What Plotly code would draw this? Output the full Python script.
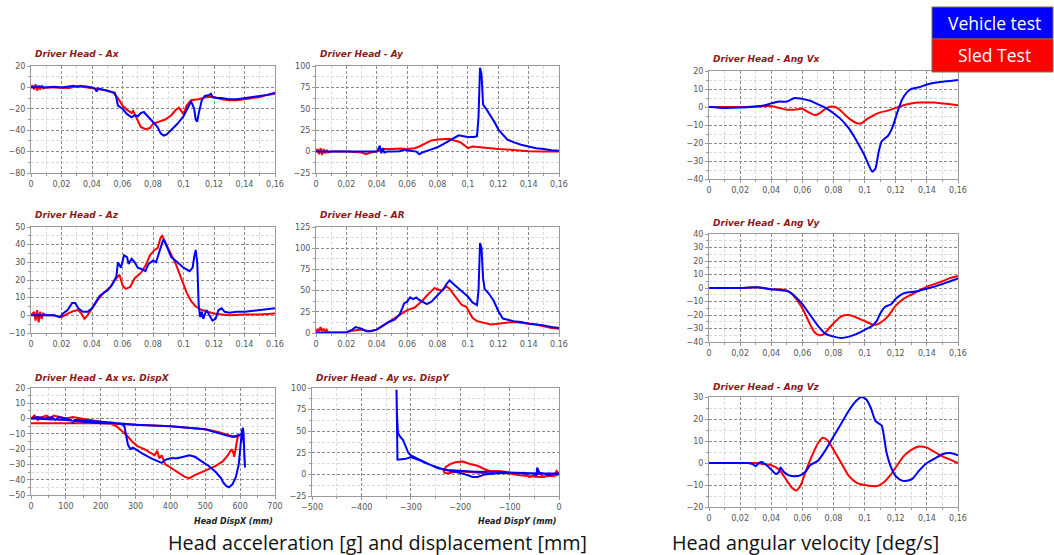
import plotly.graph_objects as go

W, H = 1054, 555

# ---------------- data (time in s) ----------------
ax_vehicle = [(0,0),(0.005,0.5),(0.01,0),(0.015,0.5),(0.02,0),(0.025,1),(0.028,1.5),(0.03,0.5),(0.035,1),(0.04,0),(0.042,-1),(0.043,-4),(0.044,-1),(0.047,-2),(0.05,-3),(0.053,-4),(0.055,-5),(0.056,-10),(0.057,-17),(0.06,-20),(0.063,-25),(0.066,-28),(0.068,-26),(0.07,-27),(0.072,-24),(0.074,-23),(0.077,-28),(0.08,-33),(0.083,-37),(0.085,-43),(0.087,-45),(0.089,-44),(0.092,-40),(0.096,-34),(0.1,-27),(0.103,-18),(0.105,-13),(0.107,-20),(0.108,-30),(0.109,-32),(0.11,-24),(0.112,-12),(0.114,-8),(0.117,-7),(0.118,-6),(0.119,-9),(0.122,-10),(0.125,-10),(0.13,-11),(0.135,-11),(0.14,-10),(0.145,-9),(0.15,-8),(0.155,-7),(0.16,-5)]
ax_sled = [(0,0),(0.001,2),(0.002,-2),(0.003,3),(0.004,-3),(0.005,2),(0.006,-2),(0.007,2),(0.008,-1),(0.01,0),(0.015,0),(0.02,0),(0.025,-0.5),(0.03,1),(0.033,1.5),(0.036,0),(0.04,-1),(0.045,-2),(0.05,-3),(0.054,-5),(0.057,-10),(0.06,-17),(0.063,-21),(0.066,-24),(0.067,-22),(0.069,-28),(0.072,-37),(0.075,-39),(0.078,-38),(0.08,-34),(0.084,-32),(0.088,-30),(0.092,-26),(0.095,-21),(0.097,-19),(0.099,-23),(0.1,-25),(0.102,-17),(0.105,-12),(0.11,-11),(0.115,-9),(0.12,-9),(0.125,-11),(0.13,-12),(0.135,-12),(0.14,-11),(0.145,-10),(0.15,-9),(0.155,-7),(0.16,-6)]

ay_vehicle = [(0,0),(0.01,0),(0.02,0),(0.03,-0.5),(0.04,0),(0.041,3),(0.042,7),(0.043,-2),(0.044,4),(0.045,-1),(0.047,0),(0.05,0),(0.055,0.5),(0.058,2),(0.062,1),(0.066,0),(0.068,-3),(0.07,-1),(0.075,2),(0.08,5),(0.085,10),(0.09,15),(0.094,19),(0.097,18),(0.1,17),(0.104,17),(0.106,18),(0.107,40),(0.108,98),(0.109,90),(0.11,55),(0.112,50),(0.115,42),(0.118,33),(0.12,26),(0.123,20),(0.126,14),(0.13,11),(0.135,8),(0.14,6),(0.145,4),(0.15,3),(0.155,1.5),(0.16,1)]
ay_sled = [(0,0),(0.001,3),(0.002,-3),(0.003,4),(0.004,-4),(0.005,3),(0.006,-2),(0.007,2),(0.008,-1),(0.01,0),(0.02,0),(0.03,-1),(0.033,-3),(0.036,-1),(0.04,0),(0.045,3),(0.05,3),(0.055,3.5),(0.06,3),(0.065,4),(0.068,6),(0.072,10),(0.076,13),(0.08,14),(0.085,15),(0.088,15),(0.091,13),(0.095,11),(0.098,7),(0.1,4),(0.103,6),(0.108,5),(0.115,4),(0.12,3),(0.13,2),(0.14,0.5),(0.15,0),(0.16,0)]

angvx_vehicle = [(0,0),(0.01,-0.5),(0.02,-0.3),(0.03,0.3),(0.035,0.8),(0.04,2),(0.045,3),(0.05,3),(0.055,5),(0.06,4.5),(0.065,3.5),(0.07,1.5),(0.075,-0.5),(0.08,-3.5),(0.085,-7),(0.09,-12),(0.095,-19),(0.1,-27),(0.103,-33),(0.105,-36),(0.107,-34),(0.109,-25),(0.111,-19),(0.115,-16),(0.118,-11),(0.121,-3),(0.124,4),(0.127,8),(0.13,10),(0.135,11),(0.14,12.5),(0.145,13.5),(0.15,14),(0.155,14.5),(0.16,15)]
angvx_sled = [(0,0),(0.01,0),(0.02,0),(0.03,0.3),(0.04,0.5),(0.045,-0.5),(0.05,-1.5),(0.055,-1.5),(0.06,-1),(0.064,-3),(0.068,-4.5),(0.071,-3.5),(0.074,-1.5),(0.077,0),(0.081,0),(0.084,-1.5),(0.087,-4),(0.091,-7),(0.095,-9),(0.098,-9),(0.101,-7),(0.105,-5),(0.11,-3),(0.115,-2),(0.12,-0.5),(0.125,1),(0.13,2),(0.135,2.5),(0.14,2.5),(0.145,2.5),(0.15,2),(0.155,1.5),(0.16,1)]

az_vehicle = [(0,0),(0.005,0),(0.01,0),(0.015,0),(0.019,-1),(0.021,1),(0.024,3),(0.027,7),(0.029,7),(0.031,4),(0.034,2),(0.037,2),(0.04,4),(0.042,7),(0.045,11),(0.048,13),(0.05,14),(0.053,17),(0.056,22),(0.057,30),(0.059,27),(0.061,34),(0.063,33),(0.064,29),(0.066,32),(0.068,30),(0.07,27),(0.073,26),(0.075,25),(0.077,29),(0.08,31),(0.082,30),(0.084,36),(0.086,41),(0.087,43),(0.089,39),(0.092,33),(0.096,30),(0.1,27),(0.104,25),(0.106,27),(0.107,33),(0.108,37),(0.109,30),(0.11,5),(0.111,-1),(0.112,2),(0.113,-2),(0.115,3),(0.117,0),(0.119,-3),(0.121,-2),(0.123,3),(0.125,4),(0.127,2),(0.13,1.5),(0.135,2),(0.14,2),(0.145,2.5),(0.15,3),(0.155,3.5),(0.16,4)]
az_sled = [(0,0),(0.002,2),(0.003,-3),(0.004,3),(0.005,-4),(0.006,2),(0.007,-2),(0.008,1),(0.01,0),(0.015,0),(0.02,-1),(0.024,1),(0.028,2.5),(0.031,3),(0.033,1),(0.035,-2),(0.037,0),(0.04,4),(0.044,9),(0.048,13),(0.052,16),(0.055,20),(0.058,23),(0.06,17),(0.062,15),(0.065,16),(0.068,21),(0.072,24),(0.075,28),(0.078,34),(0.081,37),(0.083,38),(0.085,44),(0.086,45),(0.088,41),(0.091,36),(0.095,29),(0.099,20),(0.102,13),(0.105,8),(0.108,5),(0.112,3),(0.116,2),(0.12,1),(0.125,0.5),(0.13,0),(0.14,0.5),(0.15,0.5),(0.16,1)]

ar_vehicle = [(0,0),(0.01,0.5),(0.02,1),(0.024,4),(0.026,7),(0.028,6),(0.03,5),(0.033,2),(0.036,2),(0.04,4),(0.044,9),(0.048,13),(0.052,16),(0.055,22),(0.057,30),(0.058,35),(0.06,37),(0.062,42),(0.064,40),(0.066,42),(0.068,39),(0.07,37),(0.073,34),(0.076,37),(0.08,45),(0.084,52),(0.086,58),(0.088,62),(0.091,57),(0.095,51),(0.1,43),(0.103,36),(0.106,33),(0.107,50),(0.108,106),(0.109,100),(0.11,65),(0.111,52),(0.114,46),(0.117,38),(0.12,26),(0.123,17),(0.127,15),(0.13,14),(0.135,13),(0.14,11),(0.145,10),(0.15,9),(0.155,7),(0.16,6)]
ar_sled = [(0,0),(0.001,5),(0.002,1),(0.003,7),(0.004,2),(0.005,5),(0.006,1),(0.007,4),(0.008,1),(0.01,0.5),(0.02,1),(0.025,3),(0.03,4),(0.035,2),(0.04,4),(0.045,10),(0.05,15),(0.055,22),(0.06,27),(0.065,30),(0.07,38),(0.074,46),(0.078,53),(0.081,51),(0.083,50),(0.086,55),(0.088,52),(0.09,47),(0.093,40),(0.096,33),(0.099,31),(0.101,24),(0.103,18),(0.106,14),(0.11,12),(0.115,10),(0.12,11),(0.125,12),(0.13,13),(0.135,12),(0.14,11),(0.145,10),(0.15,8),(0.155,6),(0.16,5)]

angvy_vehicle = [(0,0),(0.01,0),(0.02,0),(0.03,0.5),(0.035,0),(0.04,-1),(0.045,-1.5),(0.05,-2),(0.053,-4),(0.056,-7),(0.06,-12),(0.065,-20),(0.07,-28),(0.075,-34),(0.08,-36),(0.085,-37),(0.09,-36),(0.095,-34),(0.1,-31),(0.105,-28),(0.108,-24),(0.11,-19),(0.113,-14),(0.117,-12),(0.12,-8),(0.125,-4),(0.13,-3),(0.135,-2),(0.14,-0.5),(0.145,1),(0.15,3),(0.155,5),(0.16,7)]
angvy_sled = [(0,0),(0.01,0),(0.02,0),(0.03,0.5),(0.035,0),(0.04,-1),(0.045,-1),(0.05,-2),(0.053,-4),(0.056,-8),(0.06,-15),(0.065,-27),(0.068,-33),(0.071,-35),(0.074,-34),(0.077,-30),(0.081,-25),(0.085,-21),(0.089,-20),(0.093,-21),(0.097,-23),(0.101,-25),(0.105,-27),(0.108,-27),(0.111,-25),(0.115,-21),(0.12,-13),(0.125,-8),(0.13,-5),(0.135,-2),(0.14,1),(0.145,3),(0.15,5),(0.155,7.5),(0.16,9)]

angvz_vehicle = [(0,0),(0.01,0),(0.02,0),(0.025,0),(0.028,-0.5),(0.03,-1.5),(0.032,0),(0.034,0.5),(0.037,-1),(0.04,-3),(0.043,-5),(0.045,-4),(0.046,-2),(0.048,-4),(0.051,-5.5),(0.055,-6),(0.059,-5.5),(0.062,-4),(0.065,-1),(0.07,1),(0.075,6),(0.08,12),(0.085,18),(0.09,24),(0.095,28.5),(0.098,30),(0.101,29),(0.104,25),(0.107,19),(0.109,18),(0.111,17),(0.114,5),(0.117,-2),(0.12,-6),(0.124,-8),(0.128,-8),(0.131,-7),(0.135,-3.5),(0.14,0),(0.145,2),(0.15,4),(0.155,4.5),(0.16,3.5)]
angvz_sled = [(0,0),(0.01,0),(0.02,0),(0.03,0),(0.035,-0.5),(0.04,-1),(0.045,-3),(0.05,-8),(0.053,-11),(0.056,-12.5),(0.059,-10),(0.062,-4),(0.066,3),(0.07,9),(0.073,11.5),(0.076,10.5),(0.08,6),(0.085,0),(0.09,-6),(0.095,-9),(0.1,-10),(0.105,-10.5),(0.108,-10.5),(0.112,-9),(0.116,-6),(0.12,-2),(0.125,3),(0.13,6),(0.135,7.5),(0.14,7),(0.145,5),(0.15,3),(0.155,1.5),(0.16,0)]

# (head disp X [mm], Ax [g])
axdx_vehicle = [(0,0),(20,1),(40,0),(60,1),(70,-1),(80,1),(100,0),(115,-1),(120,-3),(125,-1),(140,-1),(160,-1.5),(200,-2),(230,-2.5),(260,-3.5),(268,-5),(272,-10),(278,-17),(285,-20),(292,-19),(300,-20),(320,-23),(345,-26),(365,-28),(375,-29),(385,-27),(400,-26),(420,-26),(440,-25),(455,-24),(470,-25),(490,-28),(510,-31),(530,-35),(545,-39),(552,-42),(560,-44),(568,-45),(578,-43),(588,-38),(596,-30),(601,-18),(605,-8),(608,-6),(610,-10),(612,-25),(614,-32),(611,-17),(606,-10),(595,-11),(580,-12),(560,-11),(530,-9),(500,-7),(450,-6),(400,-5),(350,-4.5),(300,-4),(250,-3),(200,-3),(150,-2),(100,-1),(50,-0.5),(0,0)]
axdx_sled = [(0,0),(10,2),(20,-1),(30,1),(45,2),(55,0),(65,2),(80,1),(100,0),(120,1),(150,0),(180,-1),(200,-2),(225,-3),(245,-5),(260,-8),(275,-11),(290,-15),(305,-18),(325,-20),(340,-22),(355,-24),(362,-21),(368,-26),(375,-24),(385,-30),(400,-32),(420,-35),(440,-38),(455,-39),(470,-37),(490,-35),(510,-33),(530,-31),(550,-28),(565,-24),(575,-20),(580,-22),(583,-25),(588,-17),(593,-12),(598,-11),(590,-12),(570,-11),(540,-9),(500,-7),(450,-6),(400,-5),(350,-4.5),(300,-4),(250,-3.5),(200,-3),(150,-3),(100,-3),(50,-3),(0,-3)]

# (head disp Y [mm], Ay [g])
aydy_vehicle = [(0,0),(-10,1),(-20,-1),(-30,1),(-40,2),(-44,8),(-46,-2),(-50,1),(-70,1),(-100,2),(-130,1),(-150,0),(-165,-3),(-175,-3),(-190,0),(-210,3),(-230,5),(-250,9),(-270,13),(-285,17),(-300,20),(-310,18),(-320,17),(-327,17),(-328,60),(-329,98),(-328,70),(-326,48),(-322,44),(-316,40),(-310,32),(-305,25),(-300,22),(-290,19),(-275,15),(-260,11),(-245,7),(-225,5),(-200,4),(-170,3),(-140,3),(-100,2),(-70,2),(-40,1),(-20,1),(0,1)]
aydy_sled = [(0,0),(-5,4),(-10,-2),(-20,1),(-30,-3),(-40,1),(-60,-3),(-70,2),(-90,1),(-110,3),(-120,4),(-140,4),(-150,6),(-165,10),(-180,12),(-195,15),(-210,14),(-220,12),(-228,9),(-234,5),(-232,2),(-225,1),(-210,3),(-190,3),(-160,2),(-140,1),(-120,2),(-100,1),(-80,-1),(-60,-2),(-40,-3),(-20,-2),(-5,-1),(0,3)]

time_ticks = [0, 0.02, 0.04, 0.06, 0.08, 0.1, 0.12, 0.14, 0.16]
time_labels_comma = ["0", "0,02", "0,04", "0,06", "0,08", "0,1", "0,12", "0,14", "0,16"]
time_labels_dot = ["0", "0.02", "0.04", "0.06", "0.08", "0.1", "0.12", "0.14", "0.16"]

titles = ["Driver Head - Ax", "Driver Head - Ay", "Driver Head - Ang Vx",
          "Driver Head - Az", "Driver Head - AR", "Driver Head - Ang Vy",
          "Driver Head - Ax vs. DispX", "Driver Head - Ay vs. DispY", "Driver Head - Ang Vz"]
legend_names = ["Vehicle test", "Sled Test"]
captions = ["Head acceleration [g] and displacement [mm]", "Head angular velocity [deg/s]"]
xlabels = ["Head DispX (mm)", "Head DispY (mm)"]

BLUE, RED = "#0000FF", "#FF0000"

# ---------------- panel layout (pixel boxes) ----------------
panels = [
    dict(box=(31, 275, 66, 173), tb=54, series=(ax_vehicle, ax_sled), yr=(-80, 20), yd=20, ym=10, xk="tc"),
    dict(box=(316, 559, 66, 173), tb=54, series=(ay_vehicle, ay_sled), yr=(-25, 100), yd=25, ym=12.5, xk="tc"),
    dict(box=(709, 958, 71, 179), tb=59, series=(angvx_vehicle, angvx_sled), yr=(-40, 20), yd=10, ym=5, xk="tc", smooth=True),
    dict(box=(31, 275, 227, 333), tb=215, series=(az_vehicle, az_sled), yr=(-10, 50), yd=10, ym=5, xk="td"),
    dict(box=(316, 559, 227, 333), tb=215, series=(ar_vehicle, ar_sled), yr=(0, 125), yd=25, ym=12.5, xk="td"),
    dict(box=(709, 958, 234, 342), tb=223, series=(angvy_vehicle, angvy_sled), yr=(-40, 40), yd=10, ym=5, xk="tc", smooth=True),
    dict(box=(31, 275, 388, 495), tb=378, series=(axdx_vehicle, axdx_sled), yr=(-50, 20), yd=10, ym=5, xk="dx"),
    dict(box=(312, 559, 388, 496), tb=378, series=(aydy_vehicle, aydy_sled), yr=(-25, 100), yd=25, ym=12.5, xk="dy"),
    dict(box=(709, 958, 397, 507), tb=387, series=(angvz_vehicle, angvz_sled), yr=(-20, 30), yd=10, ym=5, xk="tc", smooth=True),
]

fig = go.Figure()
annotations = []
shapes = []
tickfont = dict(family="DejaVu Sans", size=8, color="#555555")
GRID_MAJOR = "#8c8c8c"
GRID_MINOR = "#dcdcdc"
AXIS = "#9a9a9a"

for i, p in enumerate(panels, start=1):
    x0, x1, y0, y1 = p["box"]
    xa = "x" if i == 1 else f"x{i}"
    ya = "y" if i == 1 else f"y{i}"
    xkey = "xaxis" if i == 1 else f"xaxis{i}"
    ykey = "yaxis" if i == 1 else f"yaxis{i}"
    for data, col, nm in ((p["series"][1], RED, legend_names[1]), (p["series"][0], BLUE, legend_names[0])):
        xs = [a for a, b in data]
        ys = [b for a, b in data]
        line = dict(color=col, width=2)
        if p.get("smooth"):
            line.update(shape="spline", smoothing=0.6)
        fig.add_trace(go.Scatter(x=xs, y=ys, mode="lines", line=line, name=nm,
                                 xaxis=xa, yaxis=ya, showlegend=False))
    common = dict(showline=True, linecolor=AXIS, linewidth=1, mirror=True, automargin=False,
                  showgrid=True, gridcolor=GRID_MAJOR, gridwidth=1, griddash="3px,2px",
                  zeroline=False, ticks="outside", ticklen=3, tickcolor=AXIS,
                  tickfont=tickfont, fixedrange=True)
    minor = dict(showgrid=True, gridcolor=GRID_MINOR, ticks="outside", ticklen=2, tickcolor=AXIS)
    if p["xk"] in ("tc", "td"):
        xcfg = dict(range=[0, 0.16], tickmode="array", tickvals=time_ticks,
                    ticktext=time_labels_comma if p["xk"] == "tc" else time_labels_dot,
                    minor=dict(dtick=0.01, tick0=0, **minor))
    elif p["xk"] == "dx":
        xcfg = dict(range=[0, 700], dtick=100, tick0=0, minor=dict(dtick=50, tick0=0, **minor))
    else:
        xcfg = dict(range=[-500, 0], dtick=100, tick0=0, minor=dict(dtick=50, tick0=0, **minor))
    ycfg = dict(range=list(p["yr"]), dtick=p["yd"], tick0=0, minor=dict(dtick=p["ym"], tick0=0, **minor))
    fig.update_layout(**{
        xkey: dict(domain=[x0 / W, x1 / W], anchor=ya, **xcfg, **common),
        ykey: dict(domain=[1 - y1 / H, 1 - y0 / H], anchor=xa, **ycfg, **common),
    })
    annotations.append(dict(text=f"<b><i>{titles[i-1]}</i></b>", x=(x0 + 2) / W, y=1 - p["tb"] / H,
                            xref="paper", yref="paper", xanchor="left", yanchor="middle",
                            showarrow=False, font=dict(family="DejaVu Sans", size=9, color="#8B1A1A")))

# x-axis labels of the displacement panels
for txt, xr in ((xlabels[0], 275), (xlabels[1], 558)):
    annotations.append(dict(text=f"<b><i>{txt}</i></b>", x=xr / W, y=1 - 521 / H, xref="paper", yref="paper",
                            xanchor="right", yanchor="middle", showarrow=False,
                            font=dict(family="DejaVu Sans", size=8, color="#222222")))

# captions
for txt, xc in ((captions[0], 377), (captions[1], 805)):
    annotations.append(dict(text=txt, x=xc / W, y=1 - 542 / H, xref="paper", yref="paper",
                            xanchor="center", yanchor="middle", showarrow=False,
                            font=dict(family="Open Sans", size=19.8, color="#111111")))

# legend boxes
for (ty0, ty1), col, nm in (((7, 39), BLUE, legend_names[0]), ((39, 72), RED, legend_names[1])):
    shapes.append(dict(type="rect", xref="paper", yref="paper", x0=932 / W, x1=1053 / W,
                       y0=1 - ty1 / H, y1=1 - ty0 / H, fillcolor=col, line=dict(color="#8B6B4A", width=1)))
    annotations.append(dict(text=nm, x=994 / W, y=1 - (ty0 + ty1) / 2 / H, xref="paper", yref="paper",
                            xanchor="center", yanchor="middle", showarrow=False,
                            font=dict(family="Open Sans", size=17.5, color="white")))

fig.update_layout(template="none", width=W, height=H, margin=dict(l=0, r=0, t=0, b=0, autoexpand=False),
                  paper_bgcolor="white", plot_bgcolor="white", showlegend=False,
                  annotations=annotations, shapes=shapes)

fig.write_html("out.html", config={"displayModeBar": False},
               post_script="document.body.style.margin='0px';document.body.style.overflow='hidden';")
